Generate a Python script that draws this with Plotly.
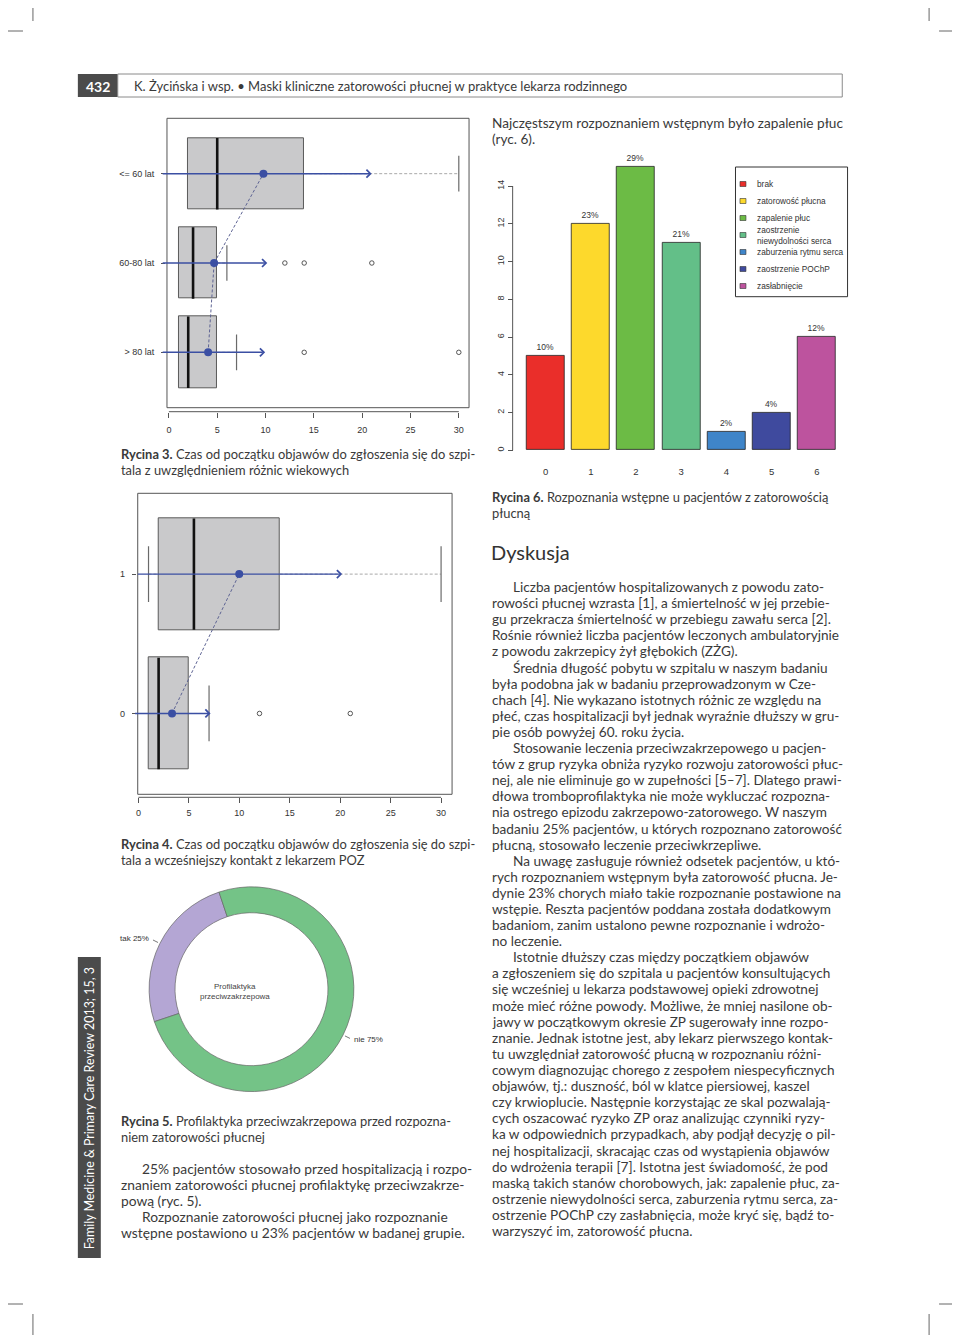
import math
import plotly.graph_objects as go

W, H = 960, 1335
OFF = 8  # page body margin of the html page
def px(x): return (x - OFF) / W
def py(y): return 1 - (y - OFF) / H

# ---------------- DATA ----------------
# Figure 3: days from symptom onset to hospital, by age group
f3_groups = ['> 80 lat', '60-80 lat', '<= 60 lat']
f3_q1 = [1, 1, 2]
f3_med = [2, 2.5, 5]
f3_q3 = [5, 5, 14]
f3_wlo = [1, 1, 2]
f3_whi = [7, 6, 30]
f3_out = [[14, 30], [12, 14, 21], []]
f3_mean = [4.06, 4.68, 9.78]
f3_sd = [5.9, 5.5, 11.2]
f3_ticks = [0, 5, 10, 15, 20, 25, 30]

# Figure 4: by earlier contact with GP (0/1)
f4_groups = ['0', '1']
f4_q1 = [1, 2]
f4_med = [2, 5.5]
f4_q3 = [5, 14]
f4_wlo = [1, 1]
f4_whi = [7, 30]
f4_out = [[12, 21], []]
f4_mean = [3.33, 9.99]
f4_sd = [3.82, 10.2]
f4_ticks = [0, 5, 10, 15, 20, 25, 30]

# Figure 5: prophylaxis donut
f5_labels = ['tak', 'nie']
f5_values = [25, 75]
f5_colors = ['#b4a6d4', '#74c387']

# Figure 6: initial diagnoses
f6_codes = [0, 1, 2, 3, 4, 5, 6]
f6_counts = [5, 12, 15, 11, 1, 2, 6]
f6_pct = ['10%', '23%', '29%', '21%', '2%', '4%', '12%']
f6_names = ['brak', 'zatorowość płucna', 'zapalenie płuc',
            'zaostrzenie<br>niewydolności serca', 'zaburzenia rytmu serca',
            'zaostrzenie POChP', 'zasłabnięcie']
f6_colors = ['#ea2e2a', '#fdd92c', '#6cbb45', '#63bf88', '#3f85c9', '#3f4a9e', '#bd539e']
f6_yticks = [0, 2, 4, 6, 8, 10, 12, 14]

# ---------------- TEXT ----------------
TXT = '#3a3a3a'
BODY = dict(family='Lato, Open Sans, sans-serif', size=13.6, color=TXT)
CAP = dict(BODY, size=12.9)
CHART = dict(family='Liberation Sans, Arial, sans-serif', size=9, color='#333')

right_col = [
    (1, 'Liczba pacjentów hospitalizowanych z powodu zato-'),
    (0, 'rowości płucnej wzrasta [1], a śmiertelność w jej przebie-'),
    (0, 'gu przekracza śmiertelność w przebiegu zawału serca [2].'),
    (0, 'Rośnie również liczba pacjentów leczonych ambulatoryjnie'),
    (0, 'z powodu zakrzepicy żył głębokich (ZŻG).'),
    (1, 'Średnia długość pobytu w szpitalu w naszym badaniu'),
    (0, 'była podobna jak w badaniu przeprowadzonym w Cze-'),
    (0, 'chach [4]. Nie wykazano istotnych różnic ze względu na'),
    (0, 'płeć, czas hospitalizacji był jednak wyraźnie dłuższy w gru-'),
    (0, 'pie osób powyżej 60. roku życia.'),
    (1, 'Stosowanie leczenia przeciwzakrzepowego u pacjen-'),
    (0, 'tów z grup ryzyka obniża ryzyko rozwoju zatorowości płuc-'),
    (0, 'nej, ale nie eliminuje go w zupełności [5–7]. Dlatego prawi-'),
    (0, 'dłowa tromboprofilaktyka nie może wykluczać rozpozna-'),
    (0, 'nia ostrego epizodu zakrzepowo-zatorowego. W naszym'),
    (0, 'badaniu 25% pacjentów, u których rozpoznano zatorowość'),
    (0, 'płucną, stosowało leczenie przeciwkrzepliwe.'),
    (1, 'Na uwagę zasługuje również odsetek pacjentów, u któ-'),
    (0, 'rych rozpoznaniem wstępnym była zatorowość płucna. Je-'),
    (0, 'dynie 23% chorych miało takie rozpoznanie postawione na'),
    (0, 'wstępie. Reszta pacjentów poddana została dodatkowym'),
    (0, 'badaniom, zanim ustalono pewne rozpoznanie i wdrożo-'),
    (0, 'no leczenie.'),
    (1, 'Istotnie dłuższy czas między początkiem objawów'),
    (0, 'a zgłoszeniem się do szpitala u pacjentów konsultujących'),
    (0, 'się wcześniej u lekarza podstawowej opieki zdrowotnej'),
    (0, 'może mieć różne powody. Możliwe, że mniej nasilone ob-'),
    (0, 'jawy w początkowym okresie ZP sugerowały inne rozpo-'),
    (0, 'znanie. Jednak istotne jest, aby lekarz pierwszego kontak-'),
    (0, 'tu uwzględniał zatorowość płucną w rozpoznaniu różni-'),
    (0, 'cowym diagnozując chorego z zespołem niespecyficznych'),
    (0, 'objawów, tj.: duszność, ból w klatce piersiowej, kaszel'),
    (0, 'czy krwioplucie. Następnie korzystając ze skal pozwalają-'),
    (0, 'cych oszacować ryzyko ZP oraz analizując czynniki ryzy-'),
    (0, 'ka w odpowiednich przypadkach, aby podjął decyzję o pil-'),
    (0, 'nej hospitalizacji, skracając czas od wystąpienia objawów'),
    (0, 'do wdrożenia terapii [7]. Istotna jest świadomość, że pod'),
    (0, 'maską takich stanów chorobowych, jak: zapalenie płuc, za-'),
    (0, 'ostrzenie niewydolności serca, zaburzenia rytmu serca, za-'),
    (0, 'ostrzenie POChP czy zasłabnięcia, może kryć się, bądź to-'),
    (0, 'warzyszyć im, zatorowość płucna.'),
]
left_body = [
    (1, '25% pacjentów stosowało przed hospitalizacją i rozpo-'),
    (0, 'znaniem zatorowości płucnej profilaktykę przeciwzakrze-'),
    (0, 'pową (ryc. 5).'),
    (1, 'Rozpoznanie zatorowości płucnej jako rozpoznanie'),
    (0, 'wstępne postawiono u 23% pacjentów w badanej grupie.'),
]

fig = go.Figure()
annotations = []
shapes = []

def text(x, y, s, font=BODY, anchor='left', **kw):
    annotations.append(dict(x=px(x), y=py(y), xref='paper', yref='paper', text=s,
                            showarrow=False, xanchor=anchor, yanchor='middle', font=font, **kw))

# ---------------- BOX PLOTS ----------------
BLUE = '#3b4fa3'
def add_boxplot(xa, ya, q1, med, q3, wlo, whi, outs, mean, sd, lo_clip):
    pos = list(range(1, len(q1) + 1))
    fig.add_trace(go.Bar(orientation='h', y=pos, x=[b - a for a, b in zip(q1, q3)], base=q1,
                         width=0.8, marker=dict(color='#c9c9cb', line=dict(color='#5a5a5a', width=1)),
                         xaxis=xa, yaxis=ya, showlegend=False, hoverinfo='skip'))
    wx, wy, sx, sy = [], [], [], []
    for p, a, b, lo, hi in zip(pos, q1, q3, wlo, whi):
        if hi > b:
            wx += [b, hi, None]; wy += [p, p, None]
            sx += [hi, hi, None]; sy += [p - 0.2, p + 0.2, None]
        if lo < a:
            wx += [lo, a, None]; wy += [p, p, None]
            sx += [lo, lo, None]; sy += [p - 0.2, p + 0.2, None]
    fig.add_trace(go.Scatter(x=wx, y=wy, mode='lines', line=dict(color='#a8a8a8', width=1, dash='3px,2px'),
                             xaxis=xa, yaxis=ya, showlegend=False, hoverinfo='skip'))
    fig.add_trace(go.Scatter(x=sx, y=sy, mode='lines', line=dict(color='#6a6a6a', width=1.2),
                             xaxis=xa, yaxis=ya, showlegend=False, hoverinfo='skip'))
    mx, my = [], []
    for p, m in zip(pos, med):
        mx += [m, m, None]; my += [p - 0.4, p + 0.4, None]
    fig.add_trace(go.Scatter(x=mx, y=my, mode='lines', line=dict(color='#111', width=2.6),
                             xaxis=xa, yaxis=ya, showlegend=False, hoverinfo='skip'))
    ox, oy = [], []
    for p, o in zip(pos, outs):
        ox += o; oy += [p] * len(o)
    fig.add_trace(go.Scatter(x=ox, y=oy, mode='markers',
                             marker=dict(symbol='circle-open', size=4.5, color='#444', line=dict(width=0.9)),
                             xaxis=xa, yaxis=ya, showlegend=False, hoverinfo='skip'))
    fig.add_trace(go.Scatter(x=mean, y=pos, mode='lines', line=dict(color='#5d6393', width=1, dash='3px,2px'),
                             xaxis=xa, yaxis=ya, showlegend=False, hoverinfo='skip'))
    for p, m, s in zip(pos, mean, sd):
        annotations.append(dict(x=m + s, y=p, ax=max(m - s, lo_clip), ay=p, xref=xa, yref=ya,
                                axref=xa, ayref=ya, text='', showarrow=True, arrowhead=4,
                                arrowsize=1.1, arrowwidth=1.4, arrowcolor=BLUE))
    fig.add_trace(go.Scatter(x=mean, y=pos, mode='markers', marker=dict(size=8, color=BLUE),
                             xaxis=xa, yaxis=ya, showlegend=False, hoverinfo='skip'))

add_boxplot('x', 'y', f3_q1, f3_med, f3_q3, f3_wlo, f3_whi, f3_out, f3_mean, f3_sd, -0.8)
add_boxplot('x2', 'y2', f4_q1, f4_med, f4_q3, f4_wlo, f4_whi, f4_out, f4_mean, f4_sd, -0.6)

# frames and bottom axis lines (R style)
for (l, t, r, b) in [(165.3, 118.3, 468, 407.7), (136, 493.3, 451, 794.3)]:
    shapes.append(dict(type='rect', xref='paper', yref='paper', x0=px(l), x1=px(r), y0=py(b), y1=py(t),
                       line=dict(color='#555', width=1)))
shapes.append(dict(type='line', xref='x', yref='paper', x0=min(f3_ticks), x1=max(f3_ticks),
                   y0=py(411.7), y1=py(411.7), line=dict(color='#555', width=1)))
shapes.append(dict(type='line', xref='x2', yref='paper', x0=min(f4_ticks), x1=max(f4_ticks),
                   y0=py(797.3), y1=py(797.3), line=dict(color='#555', width=1)))

# ---------------- BAR CHART ----------------
fig.add_trace(go.Bar(x=f6_codes, y=f6_counts, width=0.839, text=f6_pct, textposition='outside',
                     textfont=dict(family='Liberation Sans, Arial, sans-serif', size=8.5, color='#333'),
                     marker=dict(color=f6_colors, line=dict(color='#222', width=0.8)),
                     cliponaxis=False, xaxis='x3', yaxis='y3', showlegend=False, hoverinfo='skip'))
shapes.append(dict(type='line', xref='paper', yref='y3', x0=px(511.7), x1=px(511.7),
                   y0=min(f6_yticks), y1=max(f6_yticks), line=dict(color='#555', width=1)))
# legend box (manual, R-style)
shapes.append(dict(type='rect', xref='paper', yref='paper', x0=px(735), x1=px(847.3),
                   y0=py(296.7), y1=py(167), line=dict(color='#333', width=1)))
for i, (nm, c) in enumerate(zip(f6_names, f6_colors)):
    yc = 184 + 17 * i
    shapes.append(dict(type='rect', xref='paper', yref='paper', x0=px(739.5), x1=px(745.5),
                       y0=py(yc + 2.5), y1=py(yc - 2.5), fillcolor=c, line=dict(color='#333', width=0.6)))
    text(755, yc, nm, font=dict(family='Liberation Sans, Arial, sans-serif', size=8.3, color='#333'),
         align='left')

# ---------------- DONUT ----------------
cx, cy, R = 250, 989.2, 102.6
rot = -108.5
fig.add_trace(go.Pie(labels=f5_labels, values=f5_values, hole=0.747, sort=False,
                     direction='clockwise', rotation=rot, textinfo='none',
                     marker=dict(colors=f5_colors, line=dict(color='#666', width=0.7)),
                     domain=dict(x=[px(cx - R), px(cx + R)], y=[py(cy + R), py(cy - R)]),
                     showlegend=False, hoverinfo='skip'))
tot = sum(f5_values)
cum = 0
for lab, v in zip(f5_labels, f5_values):
    mid = math.radians(rot + (cum + v / 2) / tot * 360)
    cum += v
    sx_, sy_ = math.sin(mid), -math.cos(mid)
    shapes.append(dict(type='line', xref='paper', yref='paper',
                       x0=px(cx + 1.02 * R * sx_), y0=py(cy + 1.02 * R * sy_),
                       x1=px(cx + 1.075 * R * sx_), y1=py(cy + 1.075 * R * sy_),
                       line=dict(color='#555', width=0.8)))
    text(cx + 1.1 * R * sx_, cy + 1.1 * R * sy_, f'{lab} {v}%',
         font=dict(family='Liberation Sans, Arial, sans-serif', size=8, color='#333'),
         anchor='left' if sx_ > 0 else 'right')
text(233.5, 986, 'Profilaktyka', font=dict(family='Liberation Sans, Arial, sans-serif', size=8, color='#444'), anchor='center')
text(233.5, 996.8, 'przeciwzakrzepowa', font=dict(family='Liberation Sans, Arial, sans-serif', size=8, color='#444'), anchor='center')

# ---------------- PAGE ELEMENTS ----------------
# crop marks
for (x0, y0, x1, y1) in [(31, 0, 31, 21), (0, 31, 21, 31), (929, 0, 929, 21), (939, 31, 960, 31),
                         (31, 1314, 31, 1335), (0, 1304, 21, 1304), (929, 1314, 929, 1335), (939, 1304, 960, 1304)]:
    shapes.append(dict(type='line', xref='paper', yref='paper', x0=px(x0), x1=px(x1), y0=py(y0), y1=py(y1),
                       line=dict(color='#666', width=1)))
# header
shapes.append(dict(type='rect', xref='paper', yref='paper', x0=px(76), x1=px(116), y0=py(97), y1=py(74),
                   fillcolor='#4b4b4b', line=dict(width=0)))
shapes.append(dict(type='rect', xref='paper', yref='paper', x0=px(116), x1=px(842), y0=py(97), y1=py(74),
                   line=dict(color='#8a8a8a', width=1)))
text(96, 86, '<b>432</b>', font=dict(family='Lato, sans-serif', size=14, color='white'), anchor='center')
text(130, 86, 'K. Życińska i wsp. • Maski kliniczne zatorowości płucnej w praktyce lekarza rodzinnego',
     font=dict(family='Lato, sans-serif', size=13, color=TXT))
# side bar
shapes.append(dict(type='rect', xref='paper', yref='paper', x0=px(76), x1=px(99), y0=py(1258), y1=py(957),
                   fillcolor='#4b4b4b', line=dict(width=0)))
annotations.append(dict(x=px(87.5), y=py(1108), xref='paper', yref='paper', showarrow=False, textangle=-90,
                        text='Family Medicine & Primary Care Review 2013; 15, 3',
                        font=dict(family='Lato, sans-serif', size=12.45, color='white'),
                        xanchor='center', yanchor='middle'))

# right column top text
text(489, 123, 'Najczęstszym rozpoznaniem wstępnym było zapalenie płuc')
text(489, 139, '(ryc. 6).')
# captions
text(117, 454, '<b>Rycina 3.</b> Czas od początku objawów do zgłoszenia się do szpi-', font=CAP)
text(117, 470, 'tala z uwzględnieniem różnic wiekowych', font=CAP)
text(489, 497, '<b>Rycina 6.</b> Rozpoznania wstępne u pacjentów z zatorowością', font=CAP)
text(489, 513, 'płucną', font=CAP)
text(117, 844, '<b>Rycina 4.</b> Czas od początku objawów do zgłoszenia się do szpi-', font=CAP)
text(117, 860, 'tala a wcześniejszy kontakt z lekarzem POZ', font=CAP)
text(117, 1121, '<b>Rycina 5.</b> Profilaktyka przeciwzakrzepowa przed rozpozna-', font=CAP)
text(117, 1137, 'niem zatorowości płucnej', font=CAP)
text(488, 552, 'Dyskusja', font=dict(family='Lato, sans-serif', size=20, color='#333'))

for i, (ind, s) in enumerate(right_col):
    text(510 if ind else 489, 587 + 16.1 * i, s)
for i, (ind, s) in enumerate(left_body):
    text(138 if ind else 117, 1168 + 16 * i, s, font=dict(BODY, size=13.8))

# ---------------- LAYOUT ----------------
common = dict(showgrid=False, zeroline=False, showline=False, tickcolor='#555', tickfont=CHART)
fig.update_layout(
    width=W, height=H, autosize=False, margin=dict(l=0, r=0, t=0, b=0),
    paper_bgcolor='white', plot_bgcolor='rgba(0,0,0,0)', bargap=0,
    xaxis=dict(domain=[px(165.3), px(468)], range=[-0.2, 31.06], anchor='free', position=py(411.7),
               tickvals=f3_ticks, ticks='outside', ticklen=5, ticklabelstandoff=4, **common),
    yaxis=dict(domain=[py(407.7), py(118.3)], range=[0.38, 3.62], anchor='free', position=px(163.3),
               tickvals=[1, 2, 3], ticktext=f3_groups, ticks='outside', ticklen=4, ticklabelstandoff=5, **common),
    xaxis2=dict(domain=[px(136), px(451)], range=[-0.07, 31.09], anchor='free', position=py(797.3),
                tickvals=f4_ticks, ticks='outside', ticklen=5, ticklabelstandoff=2, **common),
    yaxis2=dict(domain=[py(794.3), py(493.3)], range=[0.42, 2.58], anchor='free', position=px(134),
                tickvals=[1, 2], ticktext=f4_groups, ticks='outside', ticklen=4, ticklabelstandoff=5, **common),
    xaxis3=dict(domain=[px(511.7), px(847)], range=[-0.728, 6.673], anchor='y3',
                tickvals=f6_codes, ticks='', ticklabelstandoff=3, **common),
    yaxis3=dict(domain=[py(461.6), py(155.8)], range=[-0.6, 15.6], anchor='free', position=px(511.7),
                tickvals=f6_yticks, ticks='outside', ticklen=5, tickangle=-90, **common),
    annotations=annotations, shapes=shapes,
)
fig.update_layout(xaxis3_tickfont=dict(CHART, size=9.5))
fig.write_html('out.html')
